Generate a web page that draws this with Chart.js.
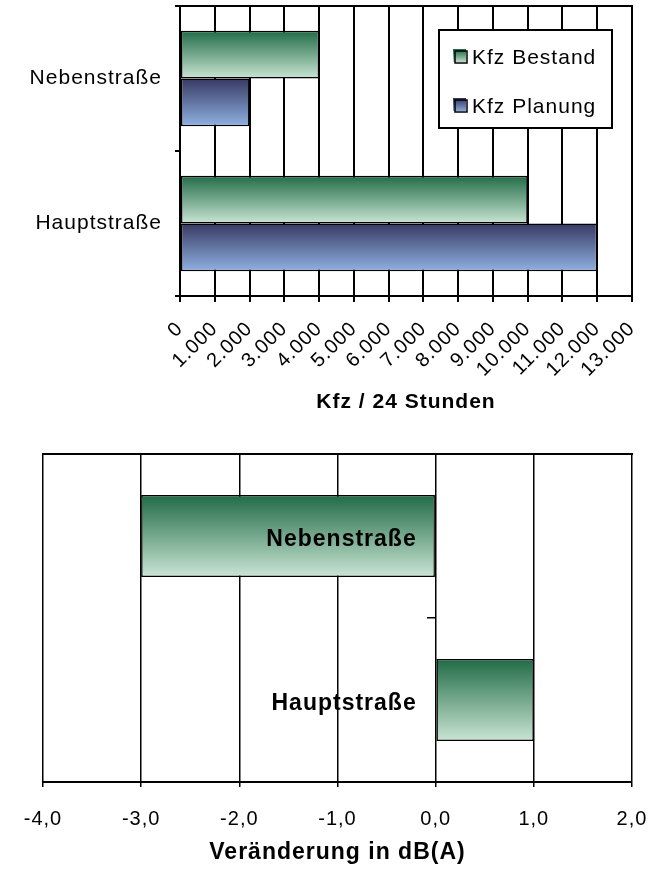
<!DOCTYPE html>
<html>
<head>
<meta charset="utf-8">
<script src="https://cdn.jsdelivr.net/npm/chart.js@4.4.0/dist/chart.umd.min.js"></script>
<style>
  html, body { margin: 0; padding: 0; background: #fff; }
  canvas { position: absolute; left: 0; }
  #c1 { top: 0; }
  #c2 { top: 425px; }
</style>
</head>
<body>
<canvas id="c1" width="649" height="425"></canvas>
<canvas id="c2" width="649" height="444"></canvas>
<script>
// Daten
const strassen = ['Nebenstraße', 'Hauptstraße'];
const kfzBestand = [4000, 10000];
const kfzPlanung = [2000, 12000];
const kfzTicks = ['0', '1.000', '2.000', '3.000', '4.000', '5.000', '6.000',
                  '7.000', '8.000', '9.000', '10.000', '11.000', '12.000', '13.000'];
const dbAenderung = [-3.0, 1.0];
const dbTicks = ['-4,0', '-3,0', '-2,0', '-1,0', '0,0', '1,0', '2,0'];

const gruen = ['#216b47', '#c9e5d3'];
const blau = ['#373a63', '#8fb1e2'];
const schrift = 'Liberation Sans, Arial, sans-serif';

Chart.defaults.font.family = schrift;
Chart.defaults.color = '#000';

// vertical gradient per bar, from the bar's band on the category scale
function verlauf(c, farben, catPct) {
  const chart = c.chart;
  const y = chart.scales.y;
  if (c.type !== 'data' || !y) return farben[1];
  const n = chart.data.datasets.length;
  const cat = (y.bottom - y.top) / chart.data.labels.length;
  const band = cat * catPct;
  const mitte = y.getPixelForValue(c.dataIndex);
  const oben = mitte - band / 2 + c.datasetIndex * band / n;
  const unten = oben + band / n;
  if (!Number.isFinite(oben) || !Number.isFinite(unten)) return farben[1];
  const g = chart.ctx.createLinearGradient(0, oben, 0, unten);
  g.addColorStop(0, farben[0]);
  g.addColorStop(1, farben[1]);
  return g;
}

// keep the plot area where the layout padding puts it
function ohnePadding(s) {
  s.paddingTop = 0; s.paddingBottom = 0; s.paddingLeft = 0; s.paddingRight = 0;
}

const abstand = {
  id: 'abstand',
  beforeDraw(chart) { chart.ctx.letterSpacing = '1px'; }
};

// y labels of an axis sitting at x=0 get no padding in chart.js, push them left
const labelVersatz = {
  id: 'labelVersatz',
  beforeDraw(chart, args, opts) {
    const items = chart.scales.y.getLabelItems();
    if (items._verschoben) return;
    items.forEach(it => {
      it.options.translation[0] -= opts.dx;
      it.options.translation[1] += opts.dy;
    });
    items._verschoben = true;
  }
};

const rahmen = {
  id: 'rahmen',
  afterDraw(chart) {
    const a = chart.chartArea, ctx = chart.ctx;
    ctx.save();
    ctx.strokeStyle = '#000';
    ctx.lineWidth = 2;
    ctx.beginPath();
    ctx.moveTo(a.left - 1, a.top);
    ctx.lineTo(a.right + 1, a.top);
    ctx.stroke();
    ctx.restore();
  }
};

const legendeBox = {
  id: 'legendeBox',
  afterDraw(chart) {
    const a = chart.chartArea, ctx = chart.ctx;
    const x = a.right - 193, y = a.top + 24, w = 173, h = 98;
    ctx.save();
    ctx.fillStyle = '#fff';
    ctx.fillRect(x, y, w, h);
    ctx.strokeStyle = '#000';
    ctx.lineWidth = 2;
    ctx.strokeRect(x, y, w, h);
    ctx.font = '21px ' + schrift;
    ctx.textBaseline = 'middle';
    chart.data.datasets.forEach((ds, i) => {
      const ty = y + 27 + i * 49;
      const g = ctx.createLinearGradient(0, ty - 7, 0, ty + 6);
      g.addColorStop(0, ds.farben[0]);
      g.addColorStop(1, ds.farben[1]);
      ctx.fillStyle = g;
      ctx.fillRect(x + 14, ty - 8, 13, 13);
      ctx.lineWidth = 1.5;
      ctx.strokeRect(x + 16, ty - 6, 12, 12);
      ctx.fillStyle = '#000';
      ctx.fillText(ds.label, x + 33, ty + 1);
    });
    ctx.restore();
  }
};

new Chart(document.getElementById('c1'), {
  type: 'bar',
  data: {
    labels: strassen,
    datasets: [
      { label: 'Kfz Bestand', data: kfzBestand, farben: gruen,
        backgroundColor: c => verlauf(c, gruen, 0.66) },
      { label: 'Kfz Planung', data: kfzPlanung, farben: blau,
        backgroundColor: c => verlauf(c, blau, 0.66) }
    ]
  },
  options: {
    indexAxis: 'y',
    responsive: false,
    animation: false,
    layout: { padding: { top: 6, right: 17, bottom: 10, left: 0 } },
    datasets: {
      bar: { categoryPercentage: 0.66, barPercentage: 1, borderColor: '#000',
             borderWidth: 1.5, borderSkipped: false }
    },
    plugins: { legend: { display: false }, tooltip: { enabled: false } },
    scales: {
      x: {
        min: 0, max: 13000,
        ticks: { stepSize: 1000, autoSkip: false, minRotation: 45, maxRotation: 45,
                 padding: 15, font: { size: 20 }, callback: (v, i) => kfzTicks[i] },
        grid: { color: '#000', lineWidth: 2, tickLength: 6 },
        border: { color: '#000', width: 2 },
        title: { display: true, text: 'Kfz / 24 Stunden', padding: 0,
                 font: { size: 21, weight: 'bold' } },
        afterFit: s => { s.height = 119; ohnePadding(s); }
      },
      y: {
        ticks: { font: { size: 21 }, padding: 13 },
        grid: { drawOnChartArea: false, color: '#000', lineWidth: 2, tickLength: 5 },
        border: { color: '#000', width: 2 },
        afterFit: s => { s.width = 180; ohnePadding(s); }
      }
    }
  },
  plugins: [abstand, rahmen, legendeBox]
});

new Chart(document.getElementById('c2'), {
  type: 'bar',
  data: {
    labels: strassen,
    datasets: [
      { label: 'Veränderung', data: dbAenderung,
        backgroundColor: c => verlauf(c, gruen, 0.5) }
    ]
  },
  options: {
    indexAxis: 'y',
    responsive: false,
    animation: false,
    layout: { padding: { top: 29, right: 17, bottom: 3, left: 43 } },
    datasets: {
      bar: { categoryPercentage: 0.5, barPercentage: 1, borderColor: '#000',
             borderWidth: 1.5, borderSkipped: false }
    },
    plugins: {
      legend: { display: false }, tooltip: { enabled: false },
      labelVersatz: { dx: 19, dy: 4 }
    },
    scales: {
      x: {
        min: -4, max: 2,
        ticks: { stepSize: 1, padding: 20, font: { size: 20 }, callback: (v, i) => dbTicks[i] },
        grid: { color: '#000', lineWidth: 1.5, tickLength: 5 },
        border: { color: '#000', width: 2 },
        title: { display: true, text: 'Veränderung in dB(A)', padding: 0,
                 font: { size: 23, weight: 'bold' } },
        afterFit: s => { s.height = 84; ohnePadding(s); }
      },
      y: {
        position: { x: 0 },
        ticks: { font: { size: 23, weight: 'bold' }, padding: 10, z: 1 },
        grid: { drawOnChartArea: false, color: '#000', lineWidth: 1.5, tickLength: 9 },
        border: { display: false },
        afterFit: s => { ohnePadding(s); }
      }
    }
  },
  plugins: [abstand, labelVersatz, rahmen]
});
</script>
</body>
</html>
